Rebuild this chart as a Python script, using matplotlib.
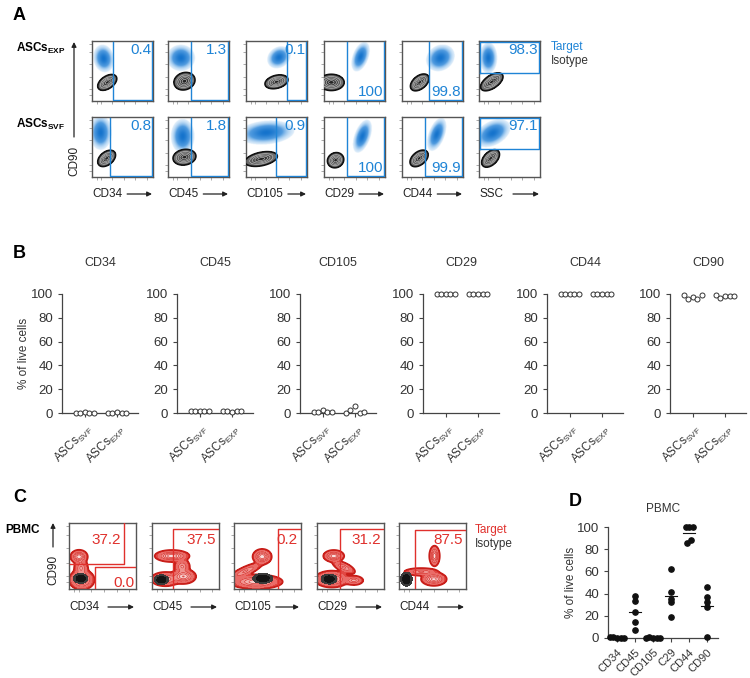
import numpy as np
import matplotlib
matplotlib.use('Agg')
import matplotlib.pyplot as plt

plt.rcParams['font.family'] = ['Liberation Sans', 'DejaVu Sans']
plt.rcParams['mathtext.fontset'] = 'custom'
plt.rcParams['mathtext.rm'] = 'Liberation Sans'
plt.rcParams['mathtext.it'] = 'Liberation Sans:italic'
plt.rcParams['mathtext.bf'] = 'Liberation Sans:bold'

# ======================= DATA =======================
# ---- Panel A (flow plots, ASCs) ----
A_markers = ['CD34', 'CD45', 'CD105', 'CD29', 'CD44', 'SSC']
A_pct_exp = [0.4, 1.3, 0.1, 100, 99.8, 98.3]
A_pct_svf = [0.8, 1.8, 0.9, 100, 99.9, 97.1]
A_gate_exp = [0.34, 0.38, 0.68, 0.38, 0.44, 0.46]
A_gate_svf = [0.30, 0.38, 0.49, 0.38, 0.37, 0.46]
# target population (blue): centre x, centre y, sd x, sd y, angle
A_blue_exp = [(0.19, 0.71, 0.065, 0.090, 10), (0.21, 0.72, 0.090, 0.085, 0),
              (0.54, 0.73, 0.080, 0.065, 40), (0.60, 0.74, 0.100, 0.050, 70),
              (0.62, 0.72, 0.095, 0.080, 40), (0.15, 0.72, 0.055, 0.100, 0)]
A_blue_svf = [(0.14, 0.73, 0.070, 0.110, 0), (0.24, 0.67, 0.075, 0.110, 0),
              (0.33, 0.73, 0.180, 0.075, 5), (0.63, 0.67, 0.110, 0.050, 70),
              (0.56, 0.70, 0.110, 0.050, 70), (0.22, 0.72, 0.120, 0.075, 30)]
# isotype population (grey contours)
A_grey_exp = [(0.25, 0.31, 0.082, 0.048, 35), (0.27, 0.33, 0.082, 0.066, 20),
              (0.50, 0.32, 0.090, 0.050, 15), (0.12, 0.31, 0.098, 0.063, 0),
              (0.29, 0.31, 0.082, 0.050, 40), (0.21, 0.32, 0.098, 0.050, 35)]
A_grey_svf = [(0.24, 0.31, 0.078, 0.050, 40), (0.27, 0.33, 0.088, 0.060, 10),
              (0.25, 0.30, 0.125, 0.052, 12), (0.19, 0.28, 0.064, 0.057, 30),
              (0.28, 0.31, 0.080, 0.050, 40), (0.19, 0.31, 0.082, 0.050, 45)]

# ---- Panel B ----
B_markers = ['CD34', 'CD45', 'CD105', 'CD29', 'CD44', 'CD90']
B_groups = [r'ASCs$_{\mathrm{SVF}}$', r'ASCs$_{\mathrm{EXP}}$']
B_svf = [[0.3, 0.2, 1.0, 0.3, 0.2],
         [1.8, 1.5, 1.6, 1.7, 1.5],
         [0.9, 0.5, 2.2, 0.6, 1.2],
         [100, 100, 100, 100, 100],
         [100, 100, 100, 100, 100],
         [99.0, 96.0, 97.5, 96.2, 99.0]]
B_exp = [[0.3, 0.2, 0.8, 0.3, 0.2],
         [1.3, 1.8, 1.2, 1.4, 1.3],
         [0.1, 2.5, 5.5, 0.3, 1.0],
         [100, 100, 100, 100, 99.8],
         [100, 100, 100, 100, 99.9],
         [99.0, 97.0, 98.5, 98.0, 98.6]]

# ---- Panel C (flow plots, PBMC) ----
C_markers = ['CD34', 'CD45', 'CD105', 'CD29', 'CD44']
C_pct = [37.2, 37.5, 0.2, 31.2, 87.5]
C_gate_x = [0.385, 0.32, 0.65, 0.34, 0.24]
C_gate_top = [0.33, 0.91, 0.91, 0.91, 0.90]
C_cd34_upper_gate = (0.815, 0.376)
C_cd34_lower_pct = 0.0
# red components: cx, cy, sx, sy, angle, weight
C_red = [
    [(0.15, 0.49, 0.050, 0.040, 0, 1.0), (0.18, 0.32, 0.045, 0.060, 0, 0.45),
     (0.19, 0.14, 0.075, 0.060, 0, 0.9)],
    [(0.30, 0.50, 0.100, 0.035, 0, 1.0), (0.45, 0.34, 0.050, 0.050, 0, 0.45),
     (0.47, 0.19, 0.075, 0.045, 0, 0.8), (0.20, 0.15, 0.090, 0.045, 0, 0.6)],
    [(0.42, 0.49, 0.055, 0.045, 0, 1.0), (0.17, 0.27, 0.120, 0.030, 25, 0.45),
     (0.33, 0.11, 0.160, 0.045, 0, 0.75)],
    [(0.25, 0.50, 0.060, 0.035, 0, 1.0), (0.40, 0.33, 0.080, 0.030, -25, 0.45),
     (0.22, 0.15, 0.100, 0.050, 0, 0.9), (0.55, 0.13, 0.060, 0.030, 0, 0.5)],
    [(0.53, 0.50, 0.030, 0.060, 0, 1.0), (0.52, 0.15, 0.075, 0.040, 0, 0.9),
     (0.33, 0.26, 0.110, 0.025, 0, 0.45)],
]
C_black = [(0.175, 0.16, 0.050, 0.035, 0), (0.14, 0.14, 0.050, 0.035, 0),
           (0.43, 0.16, 0.070, 0.035, 0), (0.18, 0.15, 0.055, 0.035, 0),
           (0.11, 0.15, 0.040, 0.050, 0)]

# ---- Panel D ----
D_categories = ['CD34', 'CD45', 'CD105', 'C29', 'CD44', 'CD90']
D_values = [[0.5, 1.0, 0.3, 0.2, 0.4],
            [38.2, 33.4, 23.0, 14.3, 7.2],
            [0.3, 0.5, 0.2, 0.4, 0.3],
            [62.4, 41.2, 35.2, 32.0, 18.5],
            [99.7, 99.7, 99.7, 85.5, 88.5],
            [46.0, 36.7, 32.2, 27.5, 1.2]]

# ======================= STYLE =======================
W, H = 750, 678
BLUE = '#1f84d6'
RED = '#e0302c'
DARK = '#222222'
SPINE = '#444444'

fig = plt.figure(figsize=(W / 100, H / 100), dpi=100)


def px_axes(left, top, width, height, **kw):
    return fig.add_axes([left / W, 1 - (top + height) / H, width / W, height / H], **kw)


n = 180
gx = np.linspace(0, 1, n)
X, Y = np.meshgrid(gx, gx)


def gauss(cx, cy, sx, sy, ang):
    t = np.deg2rad(ang)
    dx, dy = X - cx, Y - cy
    u = dx * np.cos(t) + dy * np.sin(t)
    v = -dx * np.sin(t) + dy * np.cos(t)
    return np.exp(-0.5 * ((u / sx) ** 2 + (v / sy) ** 2))


def flow_frame(ax):
    ax.set_xlim(0, 1)
    ax.set_ylim(0, 1)
    for s in ax.spines.values():
        s.set_color('#555555')
        s.set_linewidth(1.0)
    ax.set_xticks([0.08, 0.15, 0.33, 0.52, 0.71, 0.9])
    ax.set_yticks([0.1, 0.2, 0.4, 0.62, 0.82, 0.95])
    ax.tick_params(length=2, width=0.5, colors='#888888', labelsize=0,
                   labelbottom=False, labelleft=False, direction='out')


def draw_blue(ax, p):
    d = gauss(*p)
    w = np.clip(d, 0, 1) ** 0.9
    light = np.array([0.45, 0.70, 0.92])
    dark = np.array([0.08, 0.45, 0.80])
    rgba = np.zeros((n, n, 4))
    rgba[..., :3] = light * (1 - w[..., None]) + dark * w[..., None]
    rgba[..., 3] = np.clip(d * 3.0, 0, 1) ** 0.7 * (d > 0.035)
    ax.imshow(rgba, extent=[0, 1, 0, 1], origin='lower', aspect='auto',
              interpolation='bilinear', zorder=1)


def draw_grey(ax, p):
    d = gauss(*p)
    lv = [0.1, 0.3, 0.5, 0.7, 0.9, 1.01]
    ax.contourf(X, Y, d, levels=lv,
                colors=['#6e6e6e', '#5c5c5c', '#4a4a4a', '#383838', '#242424'], zorder=2)
    ax.contour(X, Y, d, levels=lv[1:-1], colors='#c4c4c4', linewidths=0.45, zorder=3)
    ax.contour(X, Y, d, levels=[0.1], colors='#111111', linewidths=1.2, zorder=3)


def draw_red(ax, comps, black):
    d = np.zeros_like(X)
    for c in comps:
        d = d + c[5] * gauss(*c[:5])
    d = d / d.max()
    lv = [0.035, 0.12, 0.25, 0.42, 0.6, 0.8, 1.01]
    ax.contourf(X, Y, d, levels=lv,
                colors=['#e24843', '#ea6c68', '#f09490', '#f3b3b0', '#f6cdcb', '#f8dfde'],
                zorder=1)
    ax.contour(X, Y, d, levels=lv[2:-1], colors='#d8322d', linewidths=0.5, zorder=2)
    ax.contour(X, Y, d, levels=[0.035], colors='#c81e19', linewidths=1.3, zorder=2)
    b = gauss(*black)
    ax.contourf(X, Y, b, levels=[0.1, 0.4, 1.01], colors=['#3a3a3a', '#141414'], zorder=3)


# overlay for text/arrows in pixel coords
ov = fig.add_axes([0, 0, 1, 1], zorder=20)
ov.set_xlim(0, W)
ov.set_ylim(H, 0)
ov.axis('off')
ov.patch.set_alpha(0)

arrow_jobs = []


def xlabel_arrow(label, left, right, y):
    t = ov.text(left, y, label, fontsize=8.5, color=DARK, ha='left', va='center')
    arrow_jobs.append((t, right, y))


def vert_arrow(x, y0, y1):
    ov.annotate('', xy=(x, y1), xytext=(x, y0),
                arrowprops=dict(arrowstyle='-|>', lw=0.9, color=DARK, mutation_scale=7,
                                shrinkA=0, shrinkB=0))


# ======================= PANEL A =======================
A_left = [92, 168, 246, 324, 402, 479]
A_w = 61
A_tops = [41, 117]
A_label_bottom = [False, False, False, True, True, False]
for r, (pcts, gates, blues, greys) in enumerate([
        (A_pct_exp, A_gate_exp, A_blue_exp, A_grey_exp),
        (A_pct_svf, A_gate_svf, A_blue_svf, A_grey_svf)]):
    for i, m in enumerate(A_markers):
        ax = px_axes(A_left[i], A_tops[r], A_w, 60)
        flow_frame(ax)
        draw_blue(ax, blues[i])
        draw_grey(ax, greys[i])
        g = gates[i]
        if m == 'SSC':
            ax.plot([0.01, 0.99, 0.99, 0.01, 0.01], [g, g, 0.99, 0.99, g],
                    color=BLUE, lw=1.0, zorder=4)
        else:
            ax.plot([g, g, 0.99, 0.99], [0.99, 0.015, 0.015, 0.99],
                    color=BLUE, lw=1.0, zorder=4)
        txt = f'{pcts[i]:g}' if pcts[i] == 100 else f'{pcts[i]:.1f}'
        if A_label_bottom[i]:
            ax.text(0.97, 0.03, txt, transform=ax.transAxes, ha='right', va='bottom',
                    color=BLUE, fontsize=11, zorder=5)
        else:
            ax.text(0.97, 0.97, txt, transform=ax.transAxes, ha='right', va='top',
                    color=BLUE, fontsize=11, zorder=5)

for i, m in enumerate(A_markers):
    xlabel_arrow(m, A_left[i], A_left[i] + A_w - 1, 194)

ov.text(13, 15, 'A', fontsize=13, fontweight='bold', ha='left', va='center')
ov.text(16, 48, r'ASCs$_{\mathbf{EXP}}$', fontsize=8.5, fontweight='bold', ha='left', va='center')
ov.text(16, 124, r'ASCs$_{\mathbf{SVF}}$', fontsize=8.5, fontweight='bold', ha='left', va='center')
vert_arrow(74, 137, 42)
ov.text(74, 161, 'CD90', rotation=90, fontsize=8.5, ha='center', va='center', color=DARK)
ov.text(551, 47, 'Target', color=BLUE, fontsize=8.5, ha='left', va='center')
ov.text(551, 61, 'Isotype', color='#333333', fontsize=8.5, ha='left', va='center')


# ======================= swarm helper =======================
def swarm(vals, thresh, step):
    vals = np.asarray(vals, dtype=float)
    order = np.argsort(vals, kind='stable')
    offs = np.zeros(len(vals))
    clusters, cur = [], [order[0]]
    for idx in order[1:]:
        if vals[idx] - vals[cur[-1]] <= thresh:
            cur.append(idx)
        else:
            clusters.append(cur)
            cur = [idx]
    clusters.append(cur)
    for c in clusters:
        c = sorted(c)
        k = len(c)
        o = (np.arange(k) - (k - 1) / 2) * step
        for j, idx in enumerate(c):
            offs[idx] = o[j]
    return offs


def style_axes(ax):
    ax.tick_params(axis='y', labelsize=9.5, length=3, width=0.8, colors=SPINE,
                   labelcolor='#333333')
    ax.tick_params(axis='x', length=3, width=0.8, colors=SPINE, labelcolor='#333333')
    for s in ['top', 'right']:
        ax.spines[s].set_visible(False)
    for s in ['left', 'bottom']:
        ax.spines[s].set_color(SPINE)
        ax.spines[s].set_linewidth(0.9)


# ======================= PANEL B =======================
B_left = [62, 177, 300, 423, 547, 670]
for i, m in enumerate(B_markers):
    ax = px_axes(B_left[i], 294, 76, 119)
    for gi, vals in enumerate([B_svf[i], B_exp[i]]):
        xo = swarm(vals, 10, 0.14)
        ax.plot(gi + xo, vals, 'o', ms=3.6, mfc='white', mec='#333333', mew=0.7,
                ls='none', clip_on=False, zorder=3)
    ax.set_xlim(-0.7, 1.65)
    ax.set_ylim(0, 100)
    ax.set_yticks([0, 20, 40, 60, 80, 100])
    ax.set_xticks([0, 1])
    ax.set_xticklabels(B_groups, rotation=45, ha='right', rotation_mode='anchor',
                       fontsize=8.5)
    style_axes(ax)
    ax.set_title(m, fontsize=9, pad=20, color='#333333')
    if i == 0:
        ax.set_ylabel('% of live cells', fontsize=8.5, color='#333333')
        ax.yaxis.set_label_coords(-0.42, 0.5)
ov.text(13, 253, 'B', fontsize=13, fontweight='bold', ha='left', va='center')

# ======================= PANEL C =======================
C_left = [69, 152, 234, 317, 399]
C_w = 67
for i, m in enumerate(C_markers):
    ax = px_axes(C_left[i], 523, C_w, 66)
    flow_frame(ax)
    draw_red(ax, C_red[i], C_black[i])
    g, t = C_gate_x[i], C_gate_top[i]
    if i == 0:
        ux, uy = C_cd34_upper_gate
        ax.plot([0.008, ux, ux], [uy, uy, 0.995], color=RED, lw=1.0, zorder=4)
        ax.plot([g, g, 0.995], [0.005, t, t], color=RED, lw=1.0, zorder=4)
        ax.text(0.55, 0.75, f'{C_pct[i]:.1f}', transform=ax.transAxes, ha='center',
                va='center', color=RED, fontsize=11, zorder=5)
        ax.text(0.975, 0.09, f'{C_cd34_lower_pct:.1f}', transform=ax.transAxes,
                ha='right', va='center', color=RED, fontsize=11, zorder=5)
    else:
        ax.plot([g, g, 0.995], [0.005, t, t], color=RED, lw=1.0, zorder=4)
        ax.text(0.95, 0.75, f'{C_pct[i]:.1f}', transform=ax.transAxes, ha='right',
                va='center', color=RED, fontsize=11, zorder=5)
    xlabel_arrow(m, C_left[i], C_left[i] + C_w - 2, 607)

ov.text(13, 497, 'C', fontsize=13, fontweight='bold', ha='left', va='center')
ov.text(5, 530, 'PBMC', fontsize=8.5, fontweight='bold', ha='left', va='center')
vert_arrow(53, 547, 523)
ov.text(53, 570, 'CD90', rotation=90, fontsize=8.5, ha='center', va='center', color=DARK)
ov.text(475, 530, 'Target', color=RED, fontsize=8.5, ha='left', va='center')
ov.text(475, 544, 'Isotype', color='#333333', fontsize=8.5, ha='left', va='center')

# ======================= PANEL D =======================
ax = px_axes(608, 527, 110, 111)
for i, vals in enumerate(D_values):
    xo = swarm(vals, 3.1, 0.2)
    ax.plot(i + xo, vals, 'o', ms=3.8, color='#111111', ls='none', clip_on=False, zorder=3)
    mu = np.mean(vals)
    ax.plot([i - 0.33, i + 0.33], [mu, mu], color='#111111', lw=0.8, zorder=2)
ax.set_xlim(-0.5, 5.6)
ax.set_ylim(0, 100)
ax.set_yticks([0, 20, 40, 60, 80, 100])
ax.set_xticks(range(len(D_categories)))
ax.set_xticklabels(D_categories, rotation=45, ha='right', rotation_mode='anchor', fontsize=8)
style_axes(ax)
ax.set_title('PBMC', fontsize=8.5, pad=11, color='#333333')
ax.set_ylabel('% of live cells', fontsize=8.5, color='#333333')
ax.yaxis.set_label_coords(-0.28, 0.5)
ov.text(569, 502, 'D', fontsize=13, fontweight='bold', ha='left', va='center')

# ---- finish axis-label arrows (need text extents) ----
fig.canvas.draw()
rend = fig.canvas.get_renderer()
for t, right, y in arrow_jobs:
    bb = t.get_window_extent(rend)
    x_end = bb.x1 * W / fig.bbox.width
    start = max(x_end + 5, right - 26)
    ov.annotate('', xy=(right, y), xytext=(start, y),
                arrowprops=dict(arrowstyle='-|>', lw=0.9, color=DARK, mutation_scale=7,
                                shrinkA=0, shrinkB=0))

fig.savefig('out.png', dpi=100)
